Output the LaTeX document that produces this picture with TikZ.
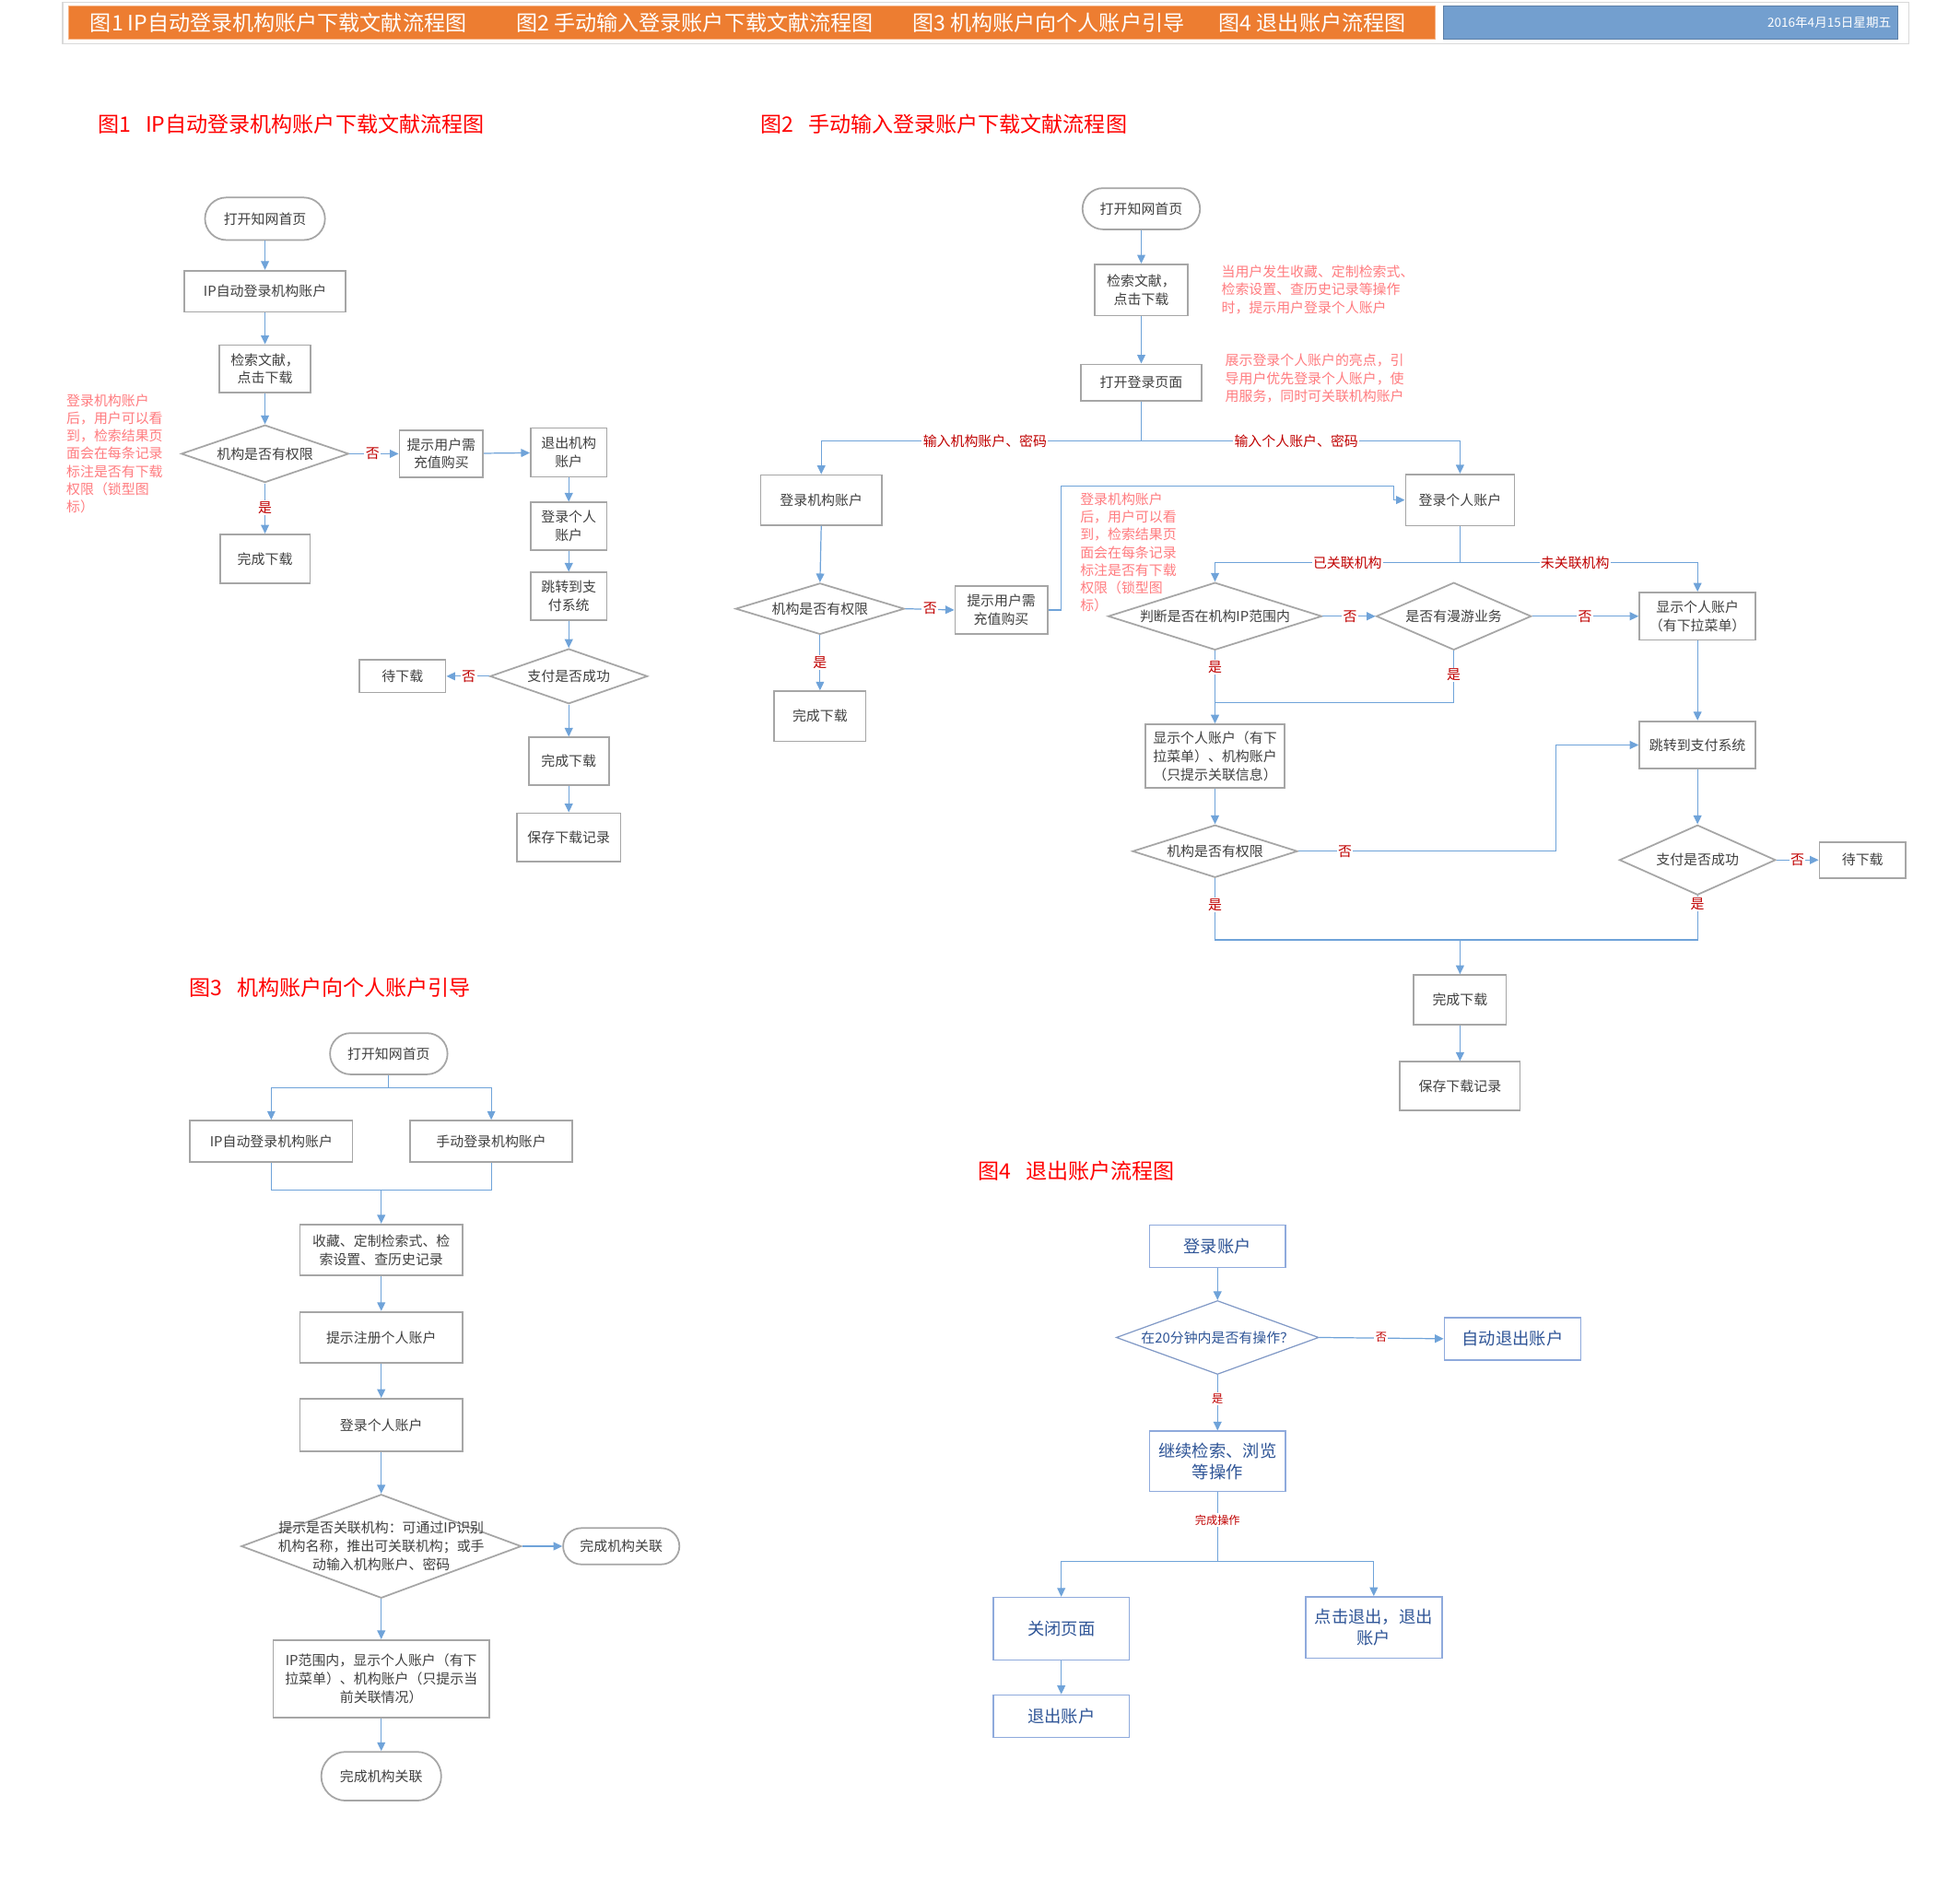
\documentclass[tikz,border=0pt]{standalone}
\usepackage{fontspec}
\newfontfamily\cjk{Noto Sans CJK SC}
\usetikzlibrary{arrows.meta,shapes.geometric}
\definecolor{boxgray}{HTML}{A6A6A6}
\definecolor{lnblue}{HTML}{6FA3D9}
\definecolor{txtgray}{HTML}{404040}
\definecolor{lblred}{HTML}{C00000}
\definecolor{notepink}{HTML}{FF7C80}
\definecolor{titred}{HTML}{FF0000}
\definecolor{hdorange}{HTML}{ED7D31}
\definecolor{hdblue}{HTML}{739FCF}
\definecolor{fourblue}{HTML}{2F5597}
\definecolor{fourborder}{HTML}{8FAADC}
\newcommand\zzbox{\cjk\fontsize{11}{14.5}\selectfont}
\newcommand\zznote{\cjk\fontsize{11}{14.2}\selectfont}
\newcommand\zztitle{\cjk\fontsize{17}{20}\selectfont}
\newcommand\zzhead{\cjk\fontsize{17}{20}\selectfont}
\newcommand\zzdate{\cjk\fontsize{10}{12}\selectfont}
\newcommand\zzfour{\cjk\fontsize{13.5}{17}\selectfont}
\newcommand\zzfoursm{\cjk\fontsize{9}{11}\selectfont}
\begin{document}
\begin{tikzpicture}[x=1pt,y=-1pt,
  box/.style={rectangle,draw=boxgray,line width=1.3pt,fill=white,text=txtgray,font=\zzbox,align=center,inner sep=1pt},
  sz/.style 2 args={minimum width=#1pt,minimum height=#2pt},
  dia/.style={diamond,draw=boxgray,line width=1.3pt,fill=white,inner sep=0pt},
  dtext/.style={text=txtgray,font=\zzbox,align=center,inner sep=0pt},
  arr/.style={draw=lnblue,line width=0.9pt,-{Triangle[length=7pt,width=6.5pt]}},
  ln/.style={draw=lnblue,line width=0.9pt},
  yn/.style={text=lblred,font=\zzbox,fill=white,inner sep=1pt},
  note/.style={text=notepink,font=\zznote,align=left,anchor=north west,inner sep=0pt},
  ttl/.style={text=titred,font=\zztitle,anchor=west,inner sep=0pt},
  hd/.style={text=white,font=\zzhead,anchor=west,inner sep=0pt},
  box4/.style={rectangle,draw=fourborder,line width=1.2pt,fill=white,text=fourblue,font=\zzfour,align=center,inner sep=1pt},
  dia4/.style={diamond,draw=fourborder!90!black,line width=0.9pt,fill=white,inner sep=0pt},
  yn4/.style={text=lblred,font=\zzfoursm,fill=white,inner sep=1pt},
]
\useasboundingbox (0,0) rectangle (1568,1510.5);
\fill[white] (0,0) rectangle (1568,1510.5);

% ---------------- header ----------------
\node[draw=black!15,line width=1pt,fill=white,sz={1477}{33},inner sep=0pt] (hdr) at (788.5,18.5) {};
\node[draw=hdorange!60,line width=0.8pt,fill=hdorange,sz={1093}{26},inner sep=0pt] (hdo) at (601.5,18) {};
\node[draw=hdblue!80!black,line width=0.8pt,fill=hdblue,sz={363}{26},inner sep=0pt] (hdb) at (1336.5,18) {};
\node[hd] (h1) at (72,18) {图1 IP自动登录机构账户下载文献流程图};
\node[hd] (h2) at (413,18) {图2 手动输入登录账户下载文献流程图};
\node[hd] (h3) at (730,18) {图3 机构账户向个人账户引导};
\node[hd] (h4) at (975,18) {图4 退出账户流程图};
\node[text=white,font=\zzdate,anchor=east,inner sep=0pt] (hdate) at (1513,18) {2016年4月15日星期五};

% ---------------- titles ----------------
\node[ttl] (t1) at (78,99) {图1\hspace{12pt}IP自动登录机构账户下载文献流程图};
\node[ttl] (t2) at (608,99) {图2\hspace{12pt}手动输入登录账户下载文献流程图};
\node[ttl] (t3) at (151,790) {图3\hspace{12pt}机构账户向个人账户引导};
\node[ttl] (t4) at (782,937) {图4\hspace{12pt}退出账户流程图};

% ---------------- figure 1 ----------------
\node[box,sz={96}{34},rounded corners=17pt] (n1s) at (212,175) {打开知网首页};
\node[box,sz={129}{33}] (n1a) at (212,233) {IP自动登录机构账户};
\node[box,sz={73}{38}] (n1b) at (212,295) {检索文献，\\点击下载};
\node[dia,sz={134}{46},label={[dtext]center:{机构是否有权限}}] (d1a) at (212,363) {};
\node[box,sz={67}{38}] (n1c) at (353,363) {提示用户需\\充值购买};
\node[box,sz={61}{39}] (n1d) at (455,362) {退出机构\\账户};
\node[box,sz={61}{38}] (n1e) at (455,421) {登录个人\\账户};
\node[box,sz={61}{38}] (n1f) at (455,477) {跳转到支\\付系统};
\node[dia,sz={126}{44},label={[dtext]center:{支付是否成功}}] (d1b) at (455,541) {};
\node[box,sz={69}{26}] (n1g) at (322,541) {待下载};
\node[box,sz={64}{38}] (n1h) at (455,609) {完成下载};
\node[box,sz={83}{39}] (n1i) at (455,670) {保存下载记录};
\node[box,sz={72}{39}] (n1j) at (212,447) {完成下载};
\node[note] (note1) at (53,315) {登录机构账户\\后，用户可以看\\到，检索结果页\\面会在每条记录\\标注是否有下载\\权限（锁型图\\标）};

\draw[arr] (n1s) -- (n1a);
\draw[arr] (n1a) -- (n1b);
\draw[arr] (n1b) -- (d1a);
\draw[arr] (d1a.east) -- (n1c.west);
\draw[arr] (n1c) -- (n1d);
\draw[arr] (n1d) -- (n1e);
\draw[arr] (n1e) -- (n1f);
\draw[arr] (n1f) -- (d1b.north);
\draw[arr] (d1b.west) -- (n1g.east);
\draw[arr] (d1b.south) -- (n1h);
\draw[arr] (n1h) -- (n1i);
\draw[arr] (d1a.south) -- (n1j);
\node[yn] (y1a) at (298,363) {否};
\node[yn] (y1b) at (375,541) {否};
\node[yn] (y1c) at (212,406) {是};

% ---------------- figure 2 ----------------
\node[box,sz={94}{33},rounded corners=16.5pt] (n2s) at (913,167) {打开知网首页};
\node[box,sz={74}{41}] (n2a) at (913,232) {检索文献，\\点击下载};
\node[box,sz={97}{29}] (n2b) at (913,306) {打开登录页面};
\coordinate (j2a) at (913,353);
\node[box,sz={97}{40}] (n2c) at (657,400) {登录机构账户};
\node[box,sz={87}{41}] (n2d) at (1168,400) {登录个人账户};
\node[dia,sz={135}{41},label={[dtext]center:{机构是否有权限}}] (d2a) at (656,487) {};
\node[box,sz={74}{38}] (n2e) at (801,488) {提示用户需\\充值购买};
\node[box,sz={73}{40}] (n2f) at (656,573) {完成下载};
\coordinate (j2b) at (1168,450);
\node[dia,sz={171}{54},label={[dtext]center:{判断是否在机构IP范围内}}] (d2b) at (972,493) {};
\node[dia,sz={124}{54},label={[dtext]center:{是否有漫游业务}}] (d2c) at (1163,493) {};
\node[box,sz={93}{38}] (n2g) at (1358,493) {显示个人账户\\（有下拉菜单）};
\node[box,sz={111}{51}] (n2h) at (972,605) {显示个人账户（有下\\拉菜单）、机构账户\\（只提示关联信息）};
\node[dia,sz={132}{42},label={[dtext]center:{机构是否有权限}}] (d2d) at (972,681) {};
\node[box,sz={93}{38}] (n2i) at (1358,596) {跳转到支付系统};
\node[dia,sz={125}{56},label={[dtext]center:{支付是否成功}}] (d2e) at (1358,688) {};
\node[box,sz={69}{29}] (n2j) at (1490,688) {待下载};
\node[box,sz={74}{40}] (n2k) at (1168,800) {完成下载};
\node[box,sz={96}{39}] (n2l) at (1168,869) {保存下载记录};
\coordinate (c2a) at (849,389);
\coordinate (c2b) at (1115,389);
\coordinate (j2c) at (972,562);
\coordinate (c2c) at (1245,681);
\coordinate (j2d) at (1168,752);
\node[note] (note2a) at (977,212) {当用户发生收藏、定制检索式、\\检索设置、查历史记录等操作\\时，提示用户登录个人账户};
\node[note] (note2b) at (980,283) {展示登录个人账户的亮点，引\\导用户优先登录个人账户，使\\用服务，同时可关联机构账户};
\node[note] (note2c) at (864,394) {登录机构账户\\后，用户可以看\\到，检索结果页\\面会在每条记录\\标注是否有下载\\权限（锁型图\\标）};

\draw[arr] (n2s) -- (n2a);
\draw[arr] (n2a) -- (n2b);
\draw[ln] (n2b.south) -- (j2a);
\draw[arr] (j2a) -| (n2c.north);
\draw[arr] (j2a) -| (n2d.north);
\draw[arr] (n2c.south) -- (d2a.north);
\draw[arr] (d2a.east) -- (n2e.west);
\draw[arr] (n2e.east) -| (c2a) -- (c2b) |- (n2d.west);
\draw[arr] (d2a.south) -- (n2f.north);
\draw[ln] (n2d.south) -- (j2b);
\draw[arr] (j2b) -| (d2b.north);
\draw[arr] (j2b) -| (n2g.north);
\draw[arr] (d2b.east) -- (d2c.west);
\draw[arr] (d2c.east) -- (n2g.west);
\draw[arr] (d2b.south) -- (n2h.north);
\draw[ln] (d2c.south) |- (j2c);
\draw[arr] (n2g.south) -- (n2i.north);
\draw[arr] (n2h.south) -- (d2d.north);
\draw[arr] (d2d.east) -- (c2c) |- (n2i.west);
\draw[arr] (n2i.south) -- (d2e.north);
\draw[arr] (d2e.east) -- (n2j.west);
\draw[ln] (d2d.south) |- (j2d);
\draw[ln] (d2e.south) |- (j2d);
\draw[arr] (j2d) -- (n2k.north);
\draw[arr] (n2k) -- (n2l);
\node[yn] (l2a) at (788,353) {输入机构账户、密码};
\node[yn] (l2b) at (1037,353) {输入个人账户、密码};
\node[yn] (l2c) at (1078,450) {已关联机构};
\node[yn] (l2d) at (1260,450) {未关联机构};
\node[yn] (y2a) at (744,487) {否};
\node[yn] (y2b) at (656,530) {是};
\node[yn] (y2c) at (1080,493) {否};
\node[yn] (y2d) at (1268,493) {否};
\node[yn] (y2e) at (972,534) {是};
\node[yn] (y2f) at (1163,540) {是};
\node[yn] (y2g) at (1076,681) {否};
\node[yn] (y2h) at (1438,688) {否};
\node[yn] (y2i) at (972,724) {是};
\node[yn] (y2j) at (1358,723) {是};

% ---------------- figure 3 ----------------
\node[box,sz={94}{33},rounded corners=16.5pt] (n3s) at (311,843) {打开知网首页};
\coordinate (j3a) at (311,870);
\node[box,sz={130}{33}] (n3a) at (217,913) {IP自动登录机构账户};
\node[box,sz={130}{33}] (n3b) at (393,913) {手动登录机构账户};
\coordinate (j3b) at (305,952);
\node[box,sz={130}{41}] (n3c) at (305,1000) {收藏、定制检索式、检\\索设置、查历史记录};
\node[box,sz={130}{41}] (n3d) at (305,1070) {提示注册个人账户};
\node[box,sz={130}{42}] (n3e) at (305,1140) {登录个人账户};
\node[dia,sz={224}{83},label={[dtext,font=\cjk\fontsize{11}{15}\selectfont]center:{提示是否关联机构：可通过IP识别\\机构名称，推出可关联机构；或手\\动输入机构账户、密码}}] (d3a) at (305,1237) {};
\node[box,sz={93}{29},rounded corners=14.5pt] (n3f) at (497,1237) {完成机构关联};
\node[box,sz={173}{62}] (n3g) at (305,1343) {IP范围内，显示个人账户（有下\\拉菜单）、机构账户（只提示当\\前关联情况）};
\node[box,sz={96}{39},rounded corners=19.5pt] (n3h) at (305,1421) {完成机构关联};

\draw[ln] (n3s.south) -- (j3a);
\draw[arr] (j3a) -| (n3a.north);
\draw[arr] (j3a) -| (n3b.north);
\draw[ln] (n3a.south) |- (j3b);
\draw[ln] (n3b.south) |- (j3b);
\draw[arr] (j3b) -- (n3c.north);
\draw[arr] (n3c) -- (n3d);
\draw[arr] (n3d) -- (n3e);
\draw[arr] (n3e.south) -- (d3a.north);
\draw[arr] (d3a.east) -- (n3f.west);
\draw[arr] (d3a.south) -- (n3g.north);
\draw[arr] (n3g) -- (n3h);

% ---------------- figure 4 ----------------
\node[box4,sz={109}{34}] (n4a) at (974,997) {登录账户};
\node[dia4,sz={162}{59},label={[dtext,text=fourblue]center:{在20分钟内是否有操作？}}] (d4a) at (974,1070) {};
\node[box4,sz={109}{34}] (n4b) at (1210,1071) {自动退出账户};
\node[box4,sz={109}{48}] (n4c) at (974,1169) {继续检索、浏览\\等操作};
\coordinate (j4a) at (974,1249);
\node[box4,sz={109}{50}] (n4d) at (849,1303) {关闭页面};
\node[box4,sz={109}{49}] (n4e) at (1099,1302) {点击退出，退出\\账户};
\node[box4,sz={109}{34}] (n4f) at (849,1373) {退出账户};

\draw[arr] (n4a) -- (d4a.north);
\draw[arr] (d4a.east) -- (n4b.west);
\draw[arr] (d4a.south) -- (n4c.north);
\draw[ln] (n4c.south) -- (j4a);
\draw[arr] (j4a) -| (n4d.north);
\draw[arr] (j4a) -| (n4e.north);
\draw[arr] (n4d) -- (n4f);
\node[yn4] (y4a) at (1105,1070) {否};
\node[yn4] (y4b) at (974,1119) {是};
\node[yn4] (y4c) at (974,1216) {完成操作};
\end{tikzpicture}
\end{document}
